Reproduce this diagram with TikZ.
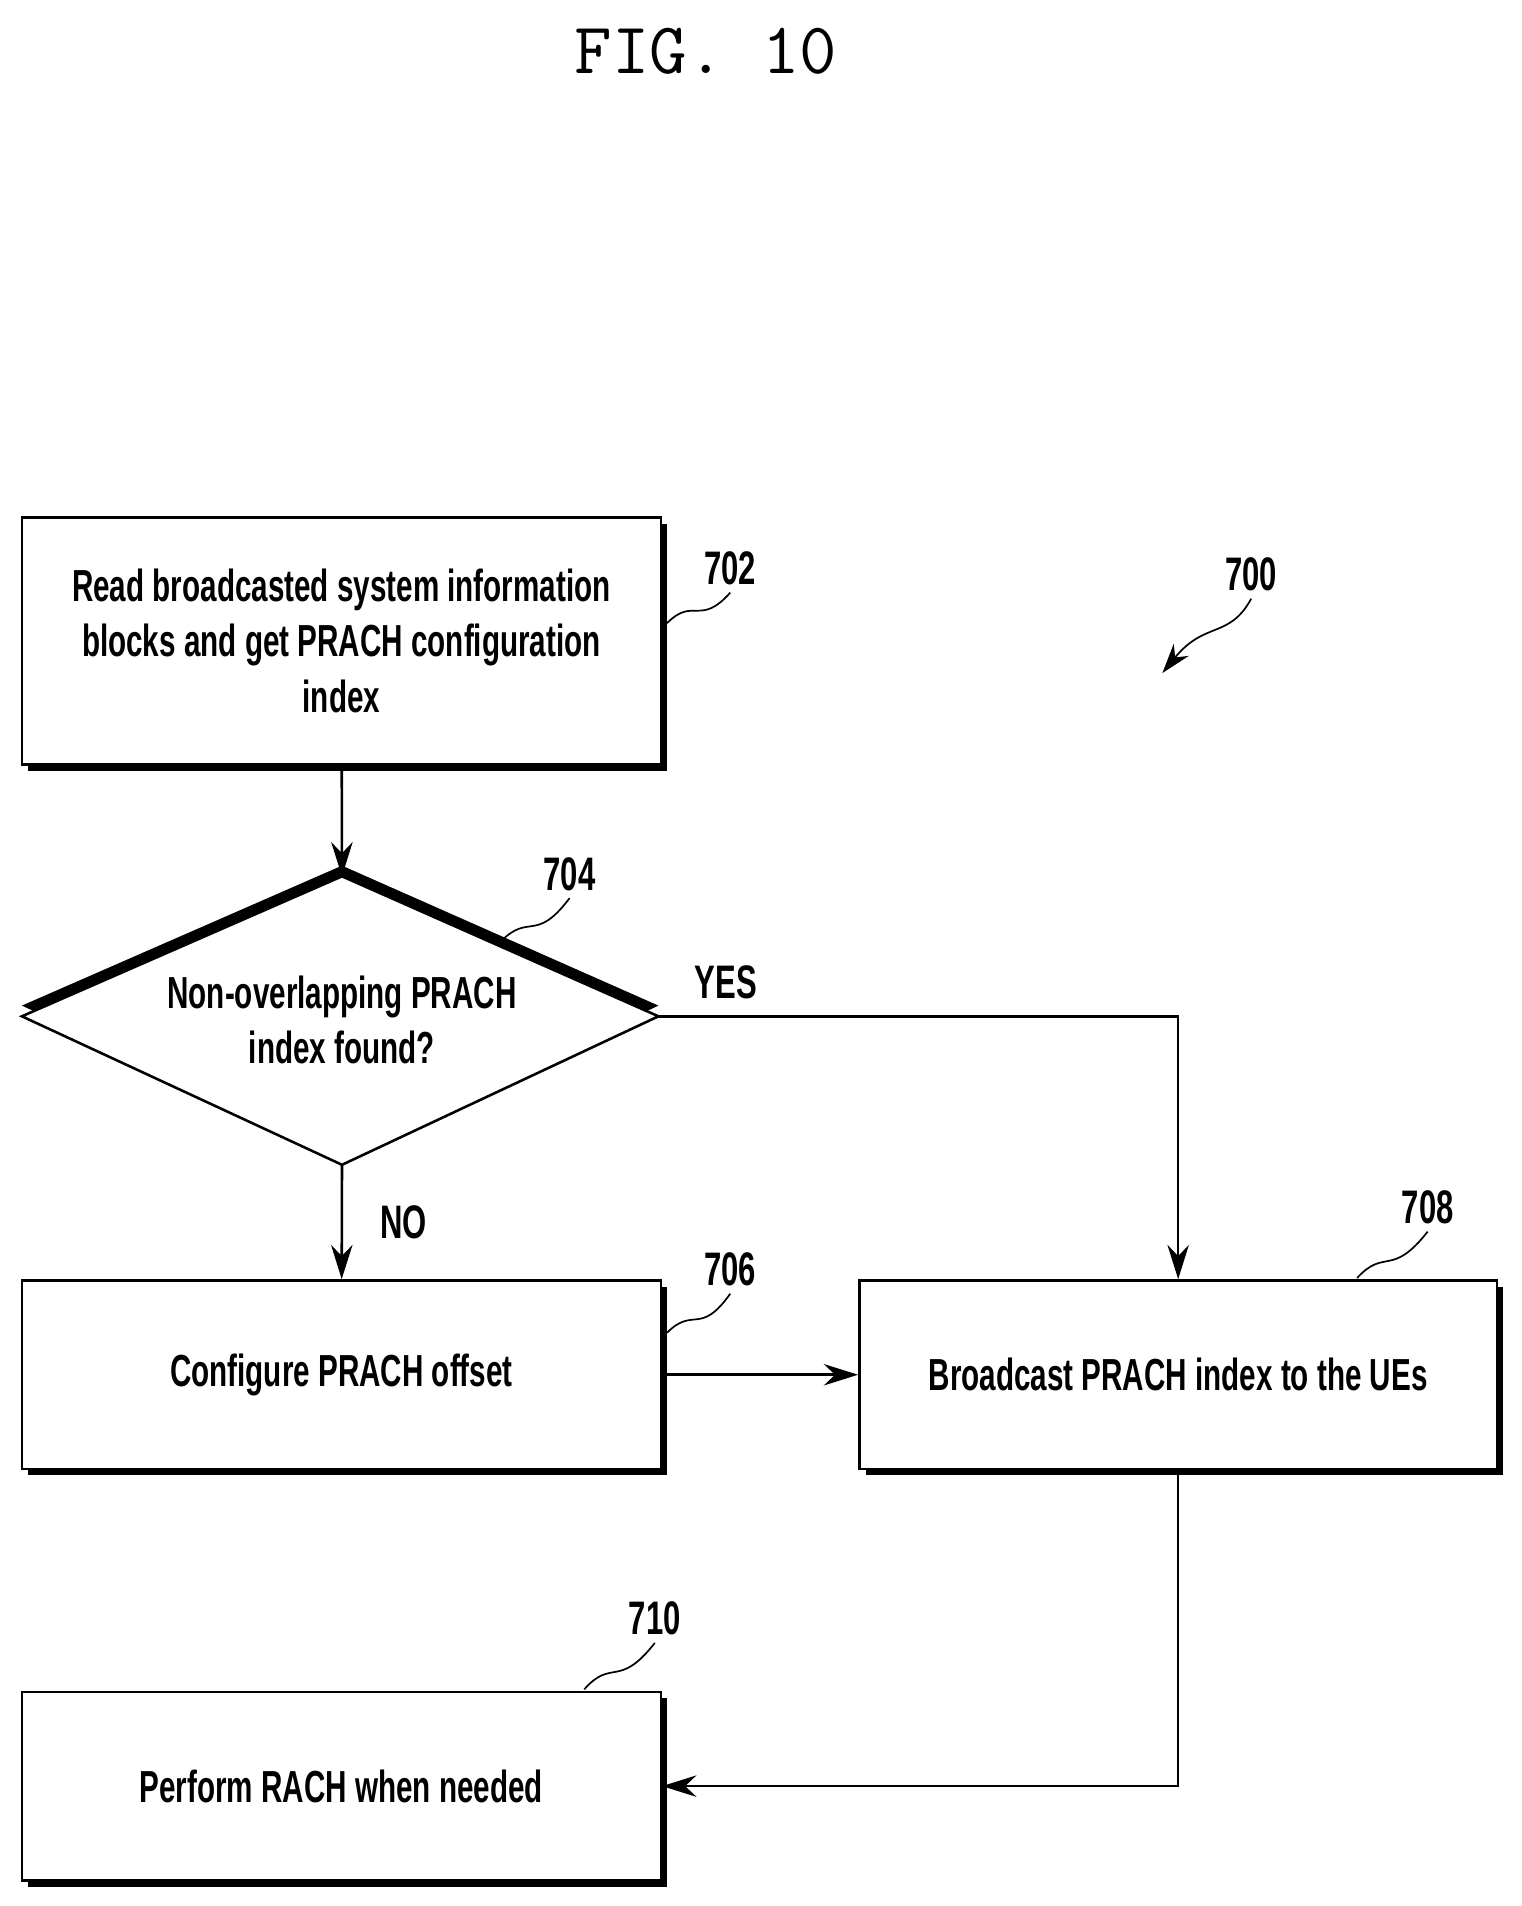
\documentclass[tikz,border=0pt]{standalone}
\usepackage{fontspec}
\setmainfont{Liberation Sans}
\newfontfamily\cond[FakeStretch=0.66]{Liberation Sans}
\usetikzlibrary{shadows,arrows.meta}
\tikzset{
  stage/.style={draw, line width=1.2pt, fill=white, align=center, font=\cond\bfseries\fontsize{21}{26}\selectfont,
    drop shadow={shadow xshift=3pt, shadow yshift=-3pt, fill=black, opacity=1}},
  ref/.style={font=\cond\bfseries\fontsize{22}{26}\selectfont},
  wave/.style={line width=0.8pt},
  flow/.style={line width=1.2pt, -{Stealth[length=16pt,width=10pt]}}
}
\begin{document}
\begin{tikzpicture}[x=0.02cm,y=-0.02cm]
\useasboundingbox (0,0) rectangle (1250,1566);
\node[font=\ttfamily\fontsize{34}{40}\selectfont] (title) at (580,42) {FIG. 10};

\node[stage, minimum width=10.5cm, minimum height=4.06cm] (b702) at (280.5,526.5)
  {Read broadcasted system information\\blocks and get PRACH configuration\\index};
% decision 704
\coordinate (d704n) at (281,720);
\coordinate (d704e) at (541,835);
\coordinate (d704s) at (281,957);
\coordinate (d704w) at (18,835);
\fill[black] ([yshift=5]d704n) -- ([yshift=5]d704e) -- ([yshift=5]d704s) -- ([yshift=5]d704w) -- cycle;
\draw[line width=1.2pt, fill=white] (d704n) -- (d704e) -- (d704s) -- (d704w) -- cycle;
\node[align=center, font=\cond\bfseries\fontsize{21}{26}\selectfont] (d704) at (281,838) {Non-overlapping PRACH\\index found?};
\node[stage, minimum width=10.5cm, minimum height=3.1cm] (b706) at (280.5,1129.5) {Configure PRACH offset};
\node[stage, minimum width=10.48cm, minimum height=3.1cm] (b708) at (968,1129.5) {Broadcast PRACH index to the UEs};
\node[stage, minimum width=10.5cm, minimum height=3.1cm] (b710) at (280.5,1467.5) {Perform RACH when needed};

% reference numerals
\node[ref] (n702) at (600,467) {702};
\node[ref] (n704) at (468,718) {704};
\node[ref] (n706) at (600,1043) {706};
\node[ref] (n708) at (1173,992) {708};
\node[ref] (n710) at (538,1330) {710};
\node[ref] (n700) at (1028,472) {700};
\coordinate (p700) at (955,553);

\draw[wave] (548,512) .. controls (570,490) and (575,515) .. (n702.south);
\draw[wave] (412,773) .. controls (435,750) and (440,775) .. (n704.south);
\draw[wave] (548,1095) .. controls (570,1073) and (575,1098) .. (n706.south);
\draw[wave] (1115,1050) .. controls (1138,1025) and (1143,1050) .. (n708.south);
\draw[wave] (480,1388) .. controls (503,1362) and (508,1388) .. (n710.south);
\draw[wave, -{Stealth[length=14pt,width=9pt]}] (n700.south) .. controls (1010,525) and (990,510) .. (p700);

% connectors
\draw[flow] (b702) -- (d704n);
\draw[flow] (d704s) -- node[ref, right=14pt] {NO} (b706);
\draw[flow] (d704e) -- node[ref, pos=0.13, above=4pt] {YES} (b708.north |- d704e) -- (b708.north);
\draw[flow] (b706) -- (b708);
\draw[flow] (b708.south) |- (b710.east);
\end{tikzpicture}
\end{document}
